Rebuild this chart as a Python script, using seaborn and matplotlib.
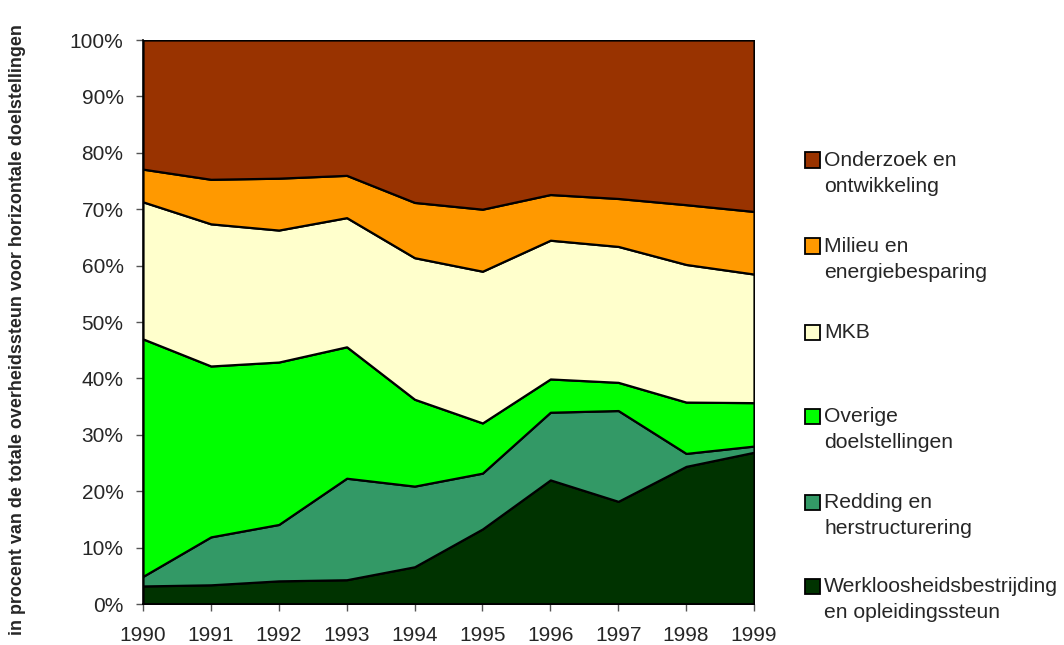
import numpy as np
import pandas as pd
import matplotlib.pyplot as plt
import seaborn as sns
from matplotlib.patches import Rectangle

# jaren
jaren = [1990, 1991, 1992, 1993, 1994, 1995, 1996, 1997, 1998, 1999]

# aandeel per doelstelling (in procent), van onder naar boven
werkloosheid = [3.2, 3.4, 4.1, 4.3, 6.6, 13.3, 22.0, 18.2, 24.4, 26.9]
redding = [1.7, 8.5, 10.0, 18.0, 14.3, 9.9, 12.0, 16.1, 2.3, 1.1]
overige = [42.1, 30.3, 28.8, 23.3, 15.4, 8.9, 5.9, 5.0, 9.1, 7.7]
mkb = [24.3, 25.2, 23.4, 22.9, 25.1, 26.9, 24.6, 24.1, 24.4, 22.8]
milieu = [5.8, 7.9, 9.2, 7.5, 9.8, 11.0, 8.1, 8.5, 10.6, 11.1]
onderzoek = [22.9, 24.7, 24.5, 24.0, 28.8, 30.0, 27.4, 28.1, 29.2, 30.4]

labels = [
    ("Werkloosheidsbestrijding", "en opleidingssteun"),
    ("Redding en", "herstructurering"),
    ("Overige", "doelstellingen"),
    ("MKB", ""),
    ("Milieu en", "energiebesparing"),
    ("Onderzoek en", "ontwikkeling"),
]
kleuren = ["#003300", "#339966", "#00FF00", "#FFFFCC", "#FF9900", "#993300"]

df = pd.DataFrame({
    "werkloosheid": werkloosheid, "redding": redding, "overige": overige,
    "mkb": mkb, "milieu": milieu, "onderzoek": onderzoek,
}, index=jaren)

sns.set_style("white")
plt.rcParams["font.family"] = ["Liberation Sans", "DejaVu Sans"]

fig = plt.figure(figsize=(10.64, 6.45), dpi=100)
ax = fig.add_axes([143 / 1064, 41 / 645, 611 / 1064, 564 / 645])

ax.stackplot(df.index, df.T.values, colors=kleuren,
             edgecolor="black", linewidth=1.6)

ax.set_xlim(1990, 1999)
ax.set_ylim(0, 100)
ax.set_xticks(jaren)
ax.set_yticks(range(0, 101, 10))
ax.set_yticklabels([f"{v}%" for v in range(0, 101, 10)])
ax.tick_params(axis="both", labelsize=15, length=5, width=1,
               color="#555555", direction="out", left=True, bottom=True)
ax.tick_params(axis="x", pad=11)
ax.tick_params(axis="y", pad=9)
for side in ["top", "right"]:
    ax.spines[side].set_visible(False)
for side in ["left", "bottom"]:
    ax.spines[side].set_color("black")
    ax.spines[side].set_linewidth(1.2)

fig.text(18 / 1064, 1 - 330 / 645,
         "in procent van de totale overheidssteun voor horizontale doelstellingen",
         rotation=90, ha="center", va="center", fontsize=12.9, fontweight="bold")

# legenda (Excel-stijl: vakje bij de eerste regel)
centra = [586, 502, 416, 332, 246, 160]
W, H = 1064, 645
for (l1, l2), kleur, cy in zip(labels, kleuren, centra):
    fig.patches.append(Rectangle(((805) / W, 1 - (cy + 7.5) / H), 15 / W, 15 / H,
                                 facecolor=kleur, edgecolor="black", linewidth=1.3,
                                 transform=fig.transFigure, figure=fig))
    fig.text(824 / W, 1 - (cy + 1) / H, l1, ha="left", va="center", fontsize=15.2)
    if l2:
        fig.text(824 / W, 1 - (cy + 26) / H, l2, ha="left", va="center", fontsize=15.2)

plt.savefig("out.png", dpi=100)
